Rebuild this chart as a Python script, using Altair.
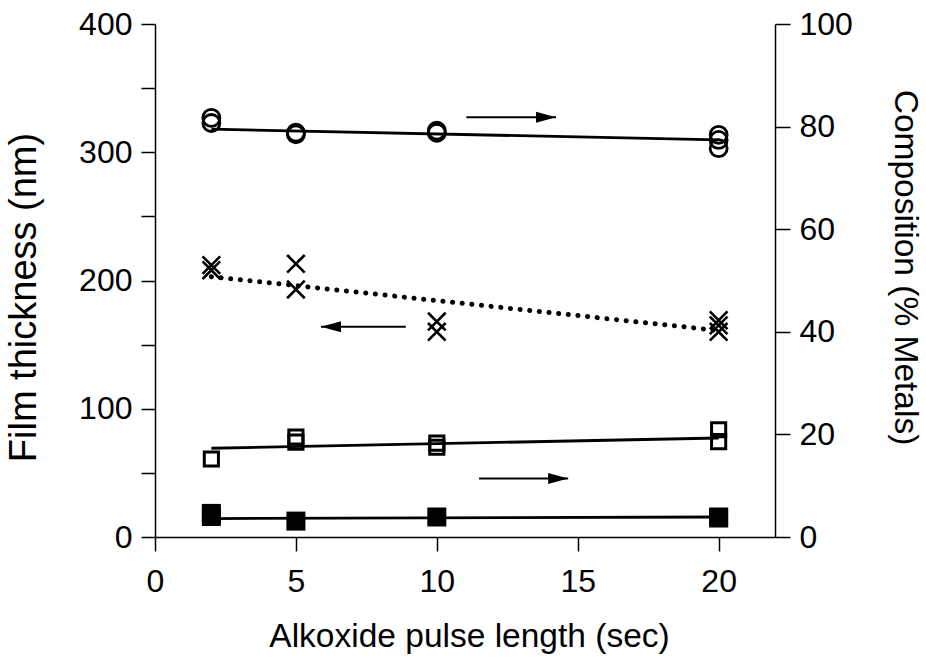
import altair as alt
import pandas as pd

# ---- data ----
circ_x = [2, 2, 5, 5, 10, 10, 20, 20, 20]
circ_y = [81.7, 80.7, 78.8, 78.5, 79.2, 78.8, 78.4, 77.4, 75.8]      # % metals (right)
cross_x = [2, 2, 5, 5, 10, 10, 20, 20, 20]
cross_y = [212, 208, 213, 193, 168, 160, 169, 165, 160]             # thickness nm (left)
osq_x = [2, 5, 5, 10, 10, 20, 20]
osq_y = [15.2, 19.5, 18.5, 18.3, 17.5, 20.9, 18.6]                  # % (right)
fsq_x = [2, 2, 5, 10, 20, 20]
fsq_y = [4.6, 4.0, 3.1, 3.9, 3.9, 3.7]                              # % (right)

fit_x = [2, 20]
circ_fit = [79.5, 77.4]
cross_fit = [203, 161]
osq_fit = [17.3, 19.3]
fsq_fit = [3.6, 3.9]

# annotation arrows (start x, tip x, y)
arr_r_x1 = [11.05, 11.5]
arr_r_x2 = [14.23, 14.66]
arr_r_y = [81.8, 11.4]
arr_l_x1 = [8.9]
arr_l_x2 = [5.89]
arr_l_y = [164]

FONT = "Liberation Sans"
FS = 32

xscale = alt.Scale(domain=[0, 22], nice=False, zero=False)


def X():
    return alt.X("x:Q", scale=xscale,
                 axis=alt.Axis(values=[0, 5, 10, 15, 20], title="Alkoxide pulse length (sec)",
                               grid=False, tickSize=14, labelPadding=15, titlePadding=23,
                               titleFontSize=33.5, titleX=314, format="d"))


def X2():
    return alt.X2("x2:Q")


lscale = alt.Scale(domain=[0, 400], nice=False)
rscale = alt.Scale(domain=[0, 100], nice=False)
laxis = alt.Axis(orient="left", values=list(range(0, 401, 50)),
                 labelExpr="datum.value % 100 == 0 ? datum.label : ''",
                 title="Film thickness (nm)", grid=False, tickSize=14,
                 labelPadding=9, titlePadding=35, titleFontSize=38, titleY=273,
                 format="d")
raxis = alt.Axis(orient="right", values=list(range(0, 101, 20)),
                 title="Composition (% Metals)", grid=False, tickSize=15,
                 labelPadding=9, titlePadding=35, titleFontSize=33.5, titleY=243,
                 format="d")


def YL(field="y"):
    return alt.Y(f"{field}:Q", scale=lscale, axis=laxis)


def YR(field="y"):
    return alt.Y(f"{field}:Q", scale=rscale, axis=raxis)


df_circ = pd.DataFrame({"x": circ_x, "y": circ_y})
df_cross = pd.DataFrame({"x": cross_x, "y": cross_y})
df_osq = pd.DataFrame({"x": osq_x, "y": osq_y})
df_fsq = pd.DataFrame({"x": fsq_x, "y": fsq_y})
df_circ_fit = pd.DataFrame({"x": fit_x, "y": circ_fit})
df_cross_fit = pd.DataFrame({"x": fit_x, "y": cross_fit})
df_osq_fit = pd.DataFrame({"x": fit_x, "y": osq_fit})
df_fsq_fit = pd.DataFrame({"x": fit_x, "y": fsq_fit})
df_ar = pd.DataFrame({"x": arr_r_x1, "x2": arr_r_x2, "y": arr_r_y})
df_al = pd.DataFrame({"x": arr_l_x1, "x2": arr_l_x2, "y": arr_l_y})
df_ar_tip = pd.DataFrame({"x": arr_r_x2, "y": arr_r_y})
df_al_tip = pd.DataFrame({"x": arr_l_x2, "y": arr_l_y})

# ---- left-axis layers ----
cross_pts = alt.Chart(df_cross).mark_point(
    shape="M-1,-1L1,1M-1,1L1,-1", filled=False, size=310, strokeWidth=2.6,
    color="black", opacity=1).encode(x=X(), y=YL())
cross_line = alt.Chart(df_cross_fit).mark_line(
    color="black", strokeWidth=5, strokeDash=[0.1, 9.6], strokeCap="round").encode(x=X(), y=YL())
al_shaft = alt.Chart(df_al).mark_rule(color="black", strokeWidth=2).encode(
    x=X(), x2=X2(), y=YL())
al_head = alt.Chart(df_al_tip).mark_point(
    shape="M0,0L2,-0.55L2,0.55Z", filled=True, size=400, color="black", opacity=1
).encode(x=X(), y=YL())
left = alt.layer(cross_line, cross_pts, al_shaft, al_head)

# ---- right-axis layers ----
circ_line = alt.Chart(df_circ_fit).mark_line(color="black", strokeWidth=2.8).encode(x=X(), y=YR())
circ_pts = alt.Chart(df_circ).mark_point(
    shape="circle", filled=False, size=290, strokeWidth=2.8, color="black", opacity=1
).encode(x=X(), y=YR())
osq_line = alt.Chart(df_osq_fit).mark_line(color="black", strokeWidth=2.8).encode(x=X(), y=YR())
osq_pts = alt.Chart(df_osq).mark_point(
    shape="square", filled=False, size=200, strokeWidth=3, color="black", opacity=1
).encode(x=X(), y=YR())
fsq_line = alt.Chart(df_fsq_fit).mark_line(color="black", strokeWidth=2.8).encode(x=X(), y=YR())
fsq_pts = alt.Chart(df_fsq).mark_point(
    shape="square", filled=True, size=361, color="black", opacity=1
).encode(x=X(), y=YR())
ar_shaft = alt.Chart(df_ar).mark_rule(color="black", strokeWidth=2).encode(
    x=X(), x2=X2(), y=YR())
ar_head = alt.Chart(df_ar_tip).mark_point(
    shape="M0,0L-2,-0.55L-2,0.55Z", filled=True, size=400, color="black", opacity=1
).encode(x=X(), y=YR())
right = alt.layer(circ_line, circ_pts, osq_line, osq_pts, fsq_line, fsq_pts, ar_shaft, ar_head)

chart = alt.layer(left, right).resolve_scale(y="independent").properties(
    width=620, height=513,
    autosize=alt.AutoSizeParams(type="none"),
    padding={"left": 155, "top": 24, "right": 151, "bottom": 121},
    background="white",
).configure_view(stroke=None).configure_axis(
    labelFont=FONT, titleFont=FONT, labelFontSize=FS,
    titleFontWeight="normal", labelColor="black", titleColor="black",
    domainColor="black", tickColor="black", domainWidth=1.5, tickWidth=1.5,
    labelFlush=False, labelOverlap=False,
)

chart.save("out.html", embed_options={"renderer": "svg", "actions": False})
